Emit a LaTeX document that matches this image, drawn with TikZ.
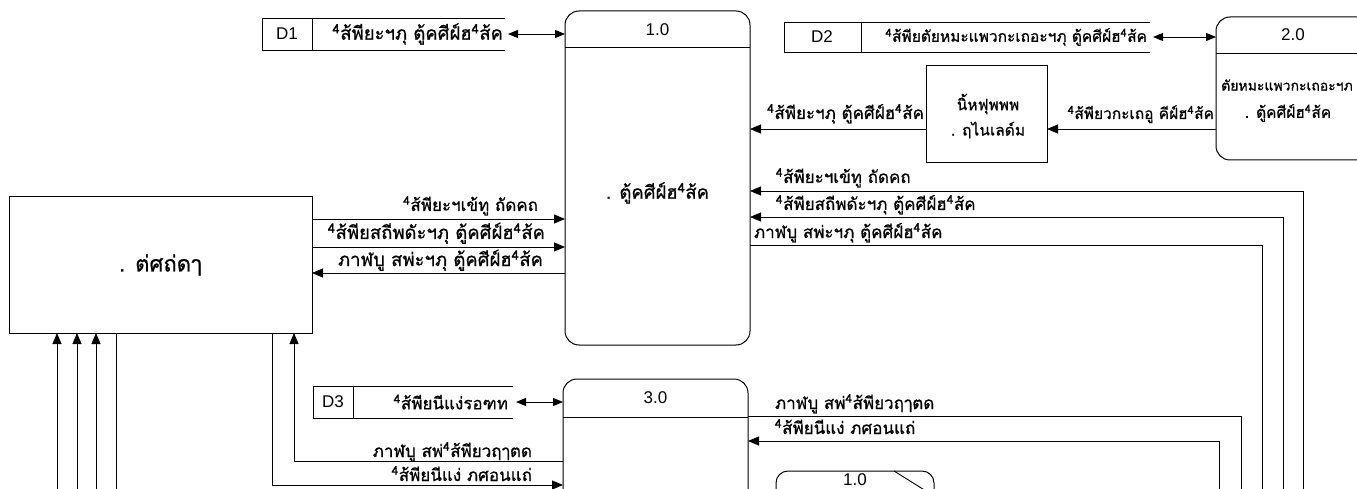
\documentclass[tikz,border=0pt]{standalone}
\usepackage{fontspec}
\setmainfont{Liberation Sans}
\newfontfamily\thai[Script=Thai, FakeBold=0.8]{Loma}
\usetikzlibrary{arrows.meta}
\newcommand{\four}{\textsuperscript{4}}
\begin{document}
\begin{tikzpicture}[x=1pt,y=-1pt,
  every node/.style={inner sep=0pt, outer sep=0pt},
  box/.style={draw, line width=1pt, fill=white},
  proc/.style={draw, line width=1pt, rounded corners=14pt, fill=white},
  lbl/.style={font=\thai\fontsize{17}{19}\selectfont},
  lbls/.style={font=\thai\fontsize{15.5}{18}\selectfont},
  lblx/.style={font=\thai\fontsize{14}{16}\selectfont},
  lblb/.style={font=\thai\fontsize{18.5}{21}\selectfont},
  big/.style={font=\thai\fontsize{22}{24}\selectfont},
  num/.style={font=\fontsize{17}{20}\selectfont},
  flow/.style={line width=0.9pt},
  arr/.style={flow, -{Triangle[length=11pt,width=9pt]}},
  darr/.style={flow, {Triangle[length=10pt,width=8pt]}-{Triangle[length=10pt,width=8pt]}},
]
\useasboundingbox (0,0) rectangle (1357,489);
\fill[white] (0,0) rectangle (1357,489);
\clip (0,0) rectangle (1357,489);

% free ends below the picture
\coordinate (c1) at (57,500);
\coordinate (c2) at (77,500);
\coordinate (c3) at (96,500);
\coordinate (c4) at (116,500);
\coordinate (r1) at (1303,500);
\coordinate (r2) at (1283,500);
\coordinate (r3) at (1262,500);
\coordinate (r4) at (1241,500);
\coordinate (r5) at (1219,500);

% processes
\node[proc, minimum width=185pt, minimum height=334pt] (p1) at (657.5,178) {};
\draw[flow] (p1.west |- 0,47) -- (p1.east |- 0,47);
\node[num] (p1n) at (657.5,30) {1.0};
\node[lblb] (p1t) at (657.5,193) {. ตู้คศีฝ์ฮ\four ส้ค};

\node[proc, minimum width=154pt, minimum height=143pt] (p2) at (1293,88.5) {};
\draw[flow] (p2.west |- 0,53) -- (p2.east |- 0,53);
\node[num] (p2n) at (1293,35) {2.0};
\node[lblx] (p2a) at (1287,85) {ตัยหมะแพวกะเถอะฯภ};
\node[lbls] (p2b) at (1288,113) {. ตู้คศีฝ์ฮ\four ส้ค};

\node[proc, minimum width=185pt, minimum height=300pt, anchor=north] (p3) at (655.5,379) {};
\draw[flow] (p3.west |- 0,417) -- (p3.east |- 0,417);
\node[num] (p3n) at (655.5,398) {3.0};

\node[proc, rounded corners=12pt, minimum width=158pt, minimum height=60pt, anchor=north west] (p4) at (776,471) {};
\draw[flow] (p4.north east) ++(-40,0) coordinate (p4d) -- ++(32,20);
\node[num] (p4n) at (855,480) {1.0};

% external entity
\node[box, minimum width=303pt, minimum height=136pt, big] (e) at (160.5,265) {. ต่ศถ่ดๅ};

% middle box
\node[box, minimum width=121pt, minimum height=97pt] (m) at (986.5,114.5) {};
\node[lbls] (ma) at (988,104) {นิ้หฟุพพพ};
\node[lbls] (mb) at (988,130) {. ฤไนเลด์ม};

% data stores
\node[minimum width=243pt, minimum height=32pt] (d1) at (383.5,34) {};
\draw[flow] (d1.north east) -- (d1.north west) -- (d1.south west) -- (d1.south east);
\draw[flow] ([xshift=50pt]d1.north west) -- ([xshift=50pt]d1.south west);
\node[num] (d1n) at (287,34) {D1};
\node[lblb, anchor=east] (d1t) at (503,34) {\four ส้พียะฯภุ ตู้คศีฝ์ฮ\four ส้ค};
\draw[darr, shorten <=3pt] (d1.east) -- (p1.west |- d1.east);

\node[minimum width=366pt, minimum height=30pt] (d2) at (967,37) {};
\draw[flow] (d2.north east) -- (d2.north west) -- (d2.south west) -- (d2.south east);
\draw[flow] ([xshift=77pt]d2.north west) -- ([xshift=77pt]d2.south west);
\node[num] (d2n) at (822,37) {D2};
\node[lbls, anchor=east] (d2t) at (1147,37) {\four ส้พียตัยหมะแพวกะเถอะฯภุ ตู้คศีฝ์ฮ\four ส้ค};
\draw[darr, shorten <=3pt] (d2.east) -- (p2.west |- d2.east);

\node[minimum width=200pt, minimum height=32pt] (d3) at (413,402) {};
\draw[flow] (d3.north east) -- (d3.north west) -- (d3.south west) -- (d3.south east);
\draw[flow] ([xshift=40pt]d3.north west) -- ([xshift=40pt]d3.south west);
\node[num] (d3n) at (333,402) {D3};
\node[lbl, anchor=east] (d3t) at (508,402) {\four ส้พียนีแง่รอฑท};
\draw[darr, shorten <=3pt] (d3.east) -- (p3.west |- d3.east);

% flows around the middle box
\draw[arr] (p2.west |- 0,129) -- (m.east |- 0,129);
\node[lbls, anchor=base east] (l1) at (1214,119) {\four ส้พียวกะเถอู คีฝ์ฮ\four ส้ค};
\draw[arr] (m.west |- 0,129) -- (p1.east |- 0,129);
\node[lbl, anchor=base east] (l2) at (924,119) {\four ส้พียะฯภุ ตู้คศีฝ์ฮ\four ส้ค};

% flows on the right of 1.0
\draw[arr] (r1) -- (r1 |- 0,191) -- (p1.east |- 0,191);
\node[lbl, anchor=base west] (l3) at (776,183) {\four ส้พียะฯเข้ทู ถัดคถ};
\draw[arr] (r2) -- (r2 |- 0,217) -- (p1.east |- 0,217);
\node[lbl, anchor=base west] (l4) at (776,210) {\four ส้พียสถีพดัะฯภุ ตู้คศีฝ์ฮ\four ส้ค};
\draw[flow] (p1.east |- 0,245) -- (r3 |- 0,245) -- (r3);
\node[lbl, anchor=base west] (l5) at (754,238) {ภาฬบู สพ่ะฯภุ ตู้คศีฝ์ฮ\four ส้ค};

% flows between entity and 1.0
\draw[arr] (e.east |- 0,219) -- (p1.west |- 0,219);
\node[lbl, anchor=base east] (l6) at (538,211) {\four ส้พียะฯเข้ทู ถัดคถ};
\draw[arr] (e.east |- 0,247) -- (p1.west |- 0,247);
\node[lblb, anchor=base east] (l7) at (545,239) {\four ส้พียสถีพดัะฯภุ ตู้คศีฝ์ฮ\four ส้ค};
\draw[arr] (p1.west |- 0,273) -- (e.east |- 0,273);
\node[lblb, anchor=base east] (l8) at (543,266) {ภาฬบู สพ่ะฯภุ ตู้คศีฝ์ฮ\four ส้ค};

% flows below the entity
\draw[arr] (c1) -- (c1 |- e.south);
\draw[arr] (c2) -- (c2 |- e.south);
\draw[arr] (c3) -- (c3 |- e.south);
\draw[flow] (c4 |- e.south) -- (c4);
\draw[arr] (e.south -| 272,0) -- (272,485) -- (p3.west |- 0,485);
\draw[arr] (p3.west |- 0,461) -- (294,461) -- (e.south -| 294,0);
\node[lbl, anchor=base east] (l9) at (532,457) {ภาฬบู สพ่\four ส้พียวฤๅตด};
\node[lbl, anchor=base east] (l10) at (532,481) {\four ส้พียนีแง่ ภศอนแถ่};

% flows on the right of 3.0
\draw[flow] (p3.east |- 0,416) -- (r4 |- 0,416) -- (r4);
\node[lbl, anchor=base west] (l11) at (775,409) {ภาฬบู สพ่\four ส้พียวฤๅตด};
\draw[arr] (r5) -- (r5 |- 0,441) -- (p3.east |- 0,441);
\node[lbl, anchor=base west] (l12) at (775,434) {\four ส้พียนีแง่ ภศอนแถ่};
\end{tikzpicture}
\end{document}
